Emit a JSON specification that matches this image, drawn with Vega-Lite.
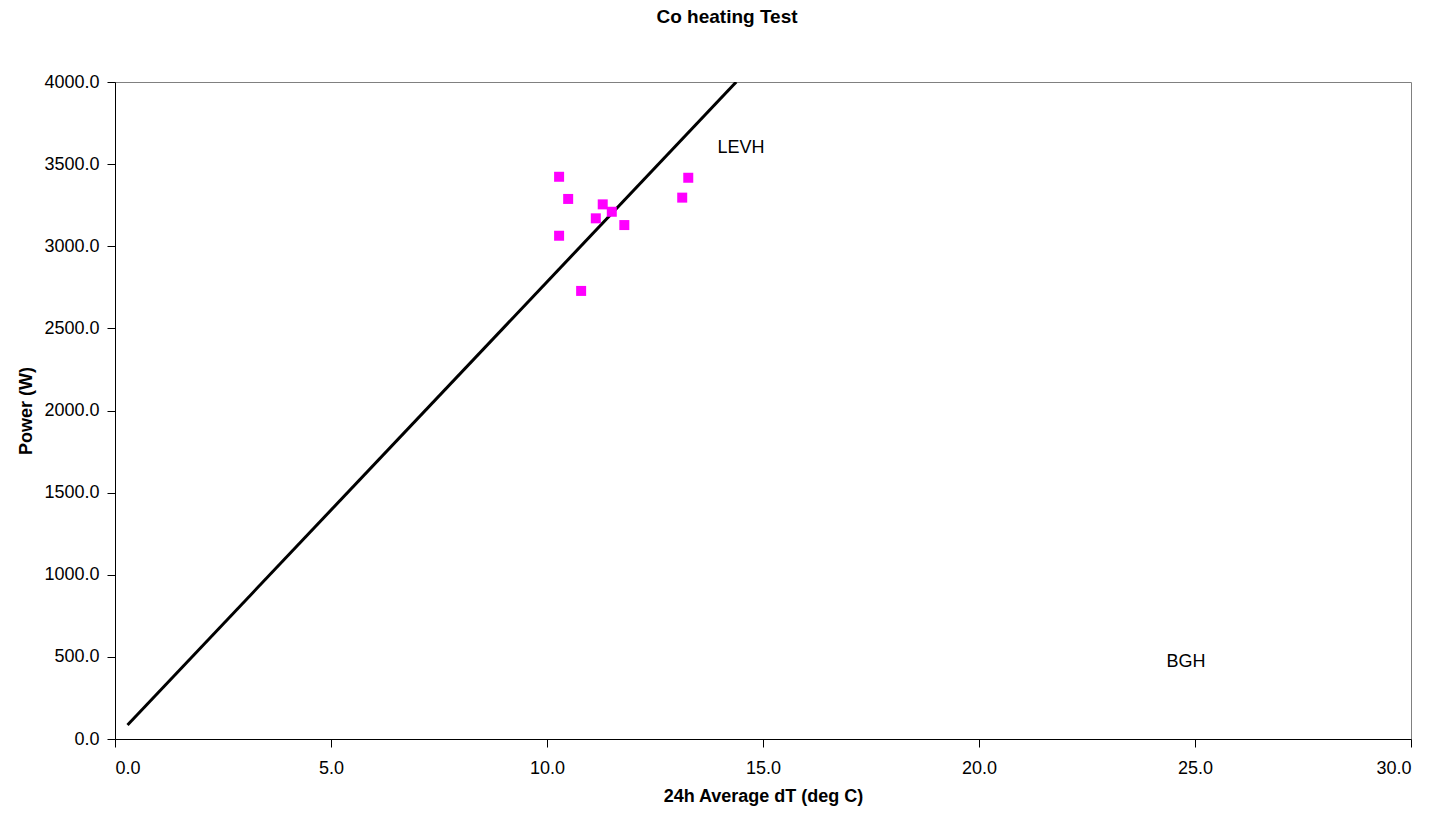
{
  "$schema": "https://vega.github.io/schema/vega-lite/v6.json",
  "width": 1296,
  "height": 657,
  "autosize": "none",
  "padding": {"left": 115, "top": 82, "right": 28, "bottom": 74},
  "background": "white",
  "config": {
    "font": "Liberation Sans",
    "view": {"stroke": "#808080", "strokeWidth": 1},
    "axis": {
      "domainColor": "black",
      "tickColor": "black",
      "tickSize": 8,
      "labelColor": "black",
      "labelFontSize": 18,
      "labelFont": "Liberation Sans",
      "titleFont": "Liberation Sans",
      "titleFontSize": 18,
      "titleFontWeight": "bold",
      "titleColor": "black",
      "grid": false
    }
  },
  "title": {
    "text": "Co heating Test",
    "font": "Liberation Sans",
    "fontSize": 19,
    "fontWeight": "bold",
    "color": "black",
    "anchor": "middle",
    "dx": -36,
    "offset": 46
  },
  "datasets": {
    "measured": [
      {"dT": 10.28, "power": 3423},
      {"dT": 10.49, "power": 3288},
      {"dT": 11.29, "power": 3255},
      {"dT": 11.50, "power": 3210},
      {"dT": 11.13, "power": 3170},
      {"dT": 11.79, "power": 3129},
      {"dT": 10.28, "power": 3064},
      {"dT": 10.79, "power": 2728},
      {"dT": 13.27, "power": 3417},
      {"dT": 13.13, "power": 3296}
    ],
    "fit": [
      {"dT": 0.29, "power": 85},
      {"dT": 14.38, "power": 4000}
    ],
    "notes": [
      {"dT": 14.49, "power": 3601, "label": "LEVH"},
      {"dT": 24.79, "power": 471, "label": "BGH"}
    ]
  },
  "layer": [
    {
      "data": {"name": "fit"},
      "mark": {"type": "line", "color": "black", "strokeWidth": 3, "clip": true},
      "encoding": {
        "x": {
          "field": "dT",
          "type": "quantitative",
          "scale": {"domain": [0, 30], "nice": false, "zero": true},
          "axis": {
            "title": "24h Average dT (deg C)",
            "values": [0, 5, 10, 15, 20, 25, 30],
            "format": ".1f",
            "labelPadding": 12,
            "titlePadding": 10
          }
        },
        "y": {
          "field": "power",
          "type": "quantitative",
          "scale": {"domain": [0, 4000], "nice": false},
          "axis": {
            "title": "Power (W)",
            "values": [0, 500, 1000, 1500, 2000, 2500, 3000, 3500, 4000],
            "format": ".1f",
            "labelPadding": 8,
            "titlePadding": 8
          }
        }
      }
    },
    {
      "data": {"name": "measured"},
      "mark": {"type": "point", "shape": "square", "filled": true, "color": "#FF00FF", "opacity": 1, "size": 100},
      "encoding": {
        "x": {"field": "dT", "type": "quantitative"},
        "y": {"field": "power", "type": "quantitative"}
      }
    },
    {
      "data": {"name": "notes"},
      "mark": {"type": "text", "font": "Liberation Sans", "fontSize": 18, "color": "black", "align": "center", "baseline": "middle"},
      "encoding": {
        "x": {"field": "dT", "type": "quantitative"},
        "y": {"field": "power", "type": "quantitative"},
        "text": {"field": "label"}
      }
    }
  ]
}
